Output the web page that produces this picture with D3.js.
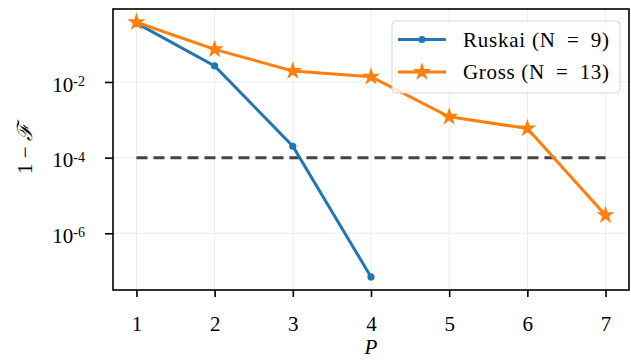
<!DOCTYPE html>
<html lang="en">
<head>
  <meta charset="UTF-8">
  <title>Fidelity vs P</title>
  <style>
    body { margin: 0; background: #fff; }
    svg text { font-family: "Liberation Serif", "DejaVu Serif", serif; fill: #000; }
    .grid line { stroke: #ececec; stroke-width: 1; }
    .axis path { display: none; }
    .axis line { stroke: #000; stroke-width: 1.6; }
  </style>
</head>
<body>
  <svg class="chart"></svg>
  <script src="https://cdn.jsdelivr.net/npm/d3@7"></script>
  <script>
    var pValues = [1, 2, 3, 4, 5, 6, 7];
    var ruskaiP = [1, 2, 3, 4];
    var ruskaiVals = [0.36, 0.0266, 2.0e-4, 7.0e-8];
    var grossP = [1, 2, 3, 4, 5, 6, 7];
    var grossVals = [0.38, 0.073, 0.0195, 0.0138, 1.2e-3, 5.9e-4, 3.0e-6];
    var threshold = 1e-4;
    var yTicks = [1e-2, 1e-4, 1e-6];
    var yTickExps = ["-2", "-4", "-6"];
    var seriesNames = ["Ruskai (N\u2002=\u20029)", "Gross (N\u2002=\u200213)"];

    var W = 631, H = 360;
    var margin = {top: 9, right: 2, bottom: 70, left: 113};
    var width = W - margin.left - margin.right,
        height = H - margin.top - margin.bottom;

    var svg = d3.select(".chart").attr("width", W).attr("height", H);
    var chart = svg.append("g")
      .attr("transform", "translate(" + margin.left + "," + margin.top + ")");

    var x = d3.scaleLinear().domain([0.7, 7.3]).range([0, width]);
    var y = d3.scaleLog().domain([Math.pow(10, -7.5), Math.pow(10, -0.07)]).range([height, 0]);

    // grid
    chart.append("g").attr("class", "grid")
      .selectAll("line.v").data(pValues).enter().append("line")
      .attr("x1", function(d) { return x(d); }).attr("x2", function(d) { return x(d); })
      .attr("y1", 0).attr("y2", height);
    chart.append("g").attr("class", "grid")
      .selectAll("line.h").data(yTicks).enter().append("line")
      .attr("y1", function(d) { return y(d); }).attr("y2", function(d) { return y(d); })
      .attr("x1", 0).attr("x2", width);

    // axes
    var xAxis = chart.append("g")
      .attr("class", "axis")
      .attr("transform", "translate(0," + height + ")")
      .call(d3.axisBottom(x).tickValues(pValues).tickSize(7).tickPadding(19).tickFormat(d3.format("d")));
    xAxis.selectAll("text").attr("dy", "0.71em").style("font-size", "21px");

    var yAxis = chart.append("g")
      .attr("class", "axis")
      .call(d3.axisLeft(y).tickValues(yTicks).tickSize(8).tickFormat(""));
    yAxis.selectAll(".tick").each(function(d, i) {
      var t = d3.select(this).append("text")
        .attr("x", -28)
        .attr("dy", "0.43em")
        .attr("text-anchor", "end")
        .style("font-size", "21px");
      t.append("tspan").text("10");
      t.append("tspan").attr("dy", "-0.4em").style("font-size", "14px").text(yTickExps[i]);
    });

    // threshold line
    chart.append("line")
      .attr("x1", x(1)).attr("x2", x(7))
      .attr("y1", y(threshold)).attr("y2", y(threshold))
      .attr("stroke", "#444").attr("stroke-width", 3)
      .attr("stroke-dasharray", "11,6");

    var line = d3.line()
      .x(function(d) { return x(d[0]); })
      .y(function(d) { return y(d[1]); });

    var ruskai = d3.zip(ruskaiP, ruskaiVals);
    var gross = d3.zip(grossP, grossVals);
    var star = d3.symbol().type(d3.symbolStar).size(105);

    chart.append("path").datum(ruskai)
      .attr("d", line).attr("fill", "none")
      .attr("stroke", "#1f77b4").attr("stroke-width", 3);
    chart.selectAll("circle.r").data(ruskai).enter().append("circle")
      .attr("cx", function(d) { return x(d[0]); })
      .attr("cy", function(d) { return y(d[1]); })
      .attr("r", 3.6).attr("fill", "#1f77b4");

    chart.append("path").datum(gross)
      .attr("d", line).attr("fill", "none")
      .attr("stroke", "#ff7f0e").attr("stroke-width", 3);
    chart.selectAll("path.s").data(gross).enter().append("path")
      .attr("class", "s")
      .attr("d", star)
      .attr("transform", function(d) { return "translate(" + x(d[0]) + "," + y(d[1]) + ")"; })
      .attr("fill", "#ff7f0e");

    // frame
    chart.append("rect")
      .attr("width", width).attr("height", height)
      .attr("fill", "none").attr("stroke", "#000").attr("stroke-width", 1.6);

    // legend
    var lg = svg.append("g").attr("transform", "translate(392,21)");
    lg.append("rect")
      .attr("width", 228).attr("height", 72).attr("rx", 4)
      .attr("fill", "#fff").attr("fill-opacity", 0.8)
      .attr("stroke", "#d6d6d6").attr("stroke-width", 1);
    var colors = ["#1f77b4", "#ff7f0e"];
    seriesNames.forEach(function(name, i) {
      var row = lg.append("g").attr("transform", "translate(0," + (18.5 + i * 32.5) + ")");
      row.append("line").attr("x1", 6).attr("x2", 54)
        .attr("stroke", colors[i]).attr("stroke-width", 3);
      if (i === 0) {
        row.append("circle").attr("cx", 30).attr("r", 3.6).attr("fill", colors[i]);
      } else {
        row.append("path").attr("d", star).attr("transform", "translate(30,0)").attr("fill", colors[i]);
      }
      row.append("text").attr("x", 71).attr("dy", "0.35em")
        .attr("textLength", 146).attr("lengthAdjust", "spacing")
        .style("font-size", "21px").text(name);
    });

    // axis labels
    svg.append("text")
      .attr("x", margin.left + x(4)).attr("y", 347).attr("dy", "0.35em")
      .attr("text-anchor", "middle")
      .style("font-size", "21px").style("font-style", "italic")
      .text("P");
    svg.append("text")
      .attr("transform", "translate(25,149) rotate(-90)")
      .attr("dy", "0.35em")
      .attr("text-anchor", "middle")
      .style("font-size", "21px")
      .html('1 − <tspan font-style="italic">ℱ</tspan>');
  </script>
</body>
</html>
